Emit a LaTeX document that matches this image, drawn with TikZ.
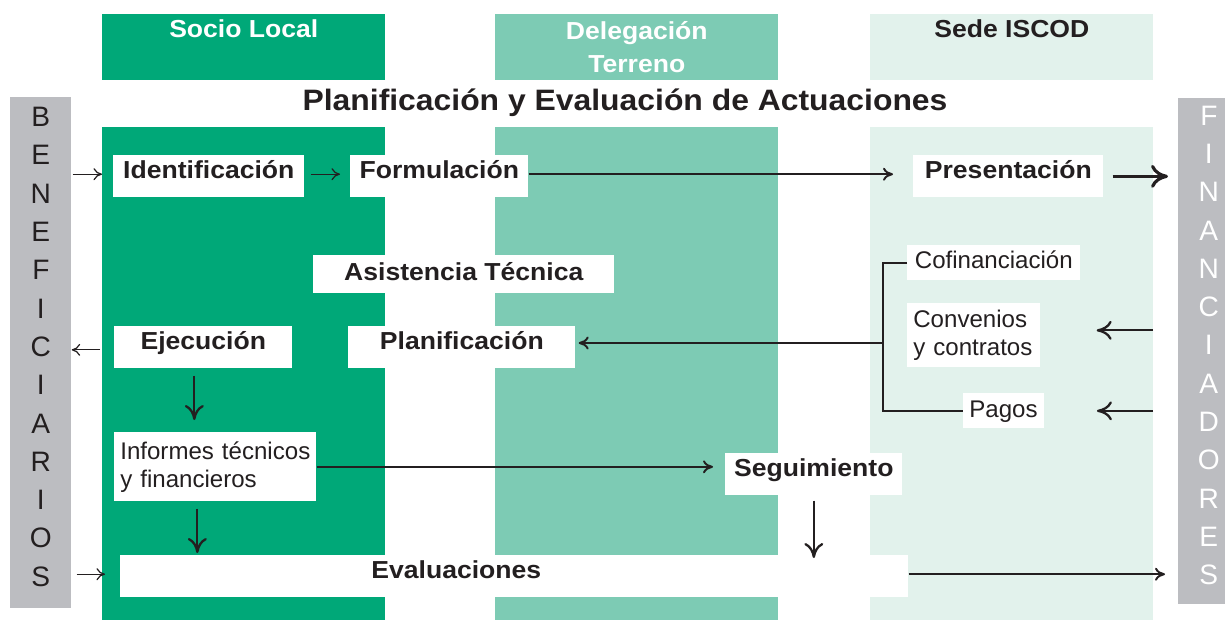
\documentclass[tikz,border=0pt]{standalone}
\usepackage{fontspec}
\setmainfont{Liberation Sans}[BoldFeatures={FakeStretch=1.08}]
\usetikzlibrary{arrows.meta}
\definecolor{socio}{RGB}{0,168,120}
\definecolor{deleg}{RGB}{125,203,180}
\definecolor{sede}{RGB}{226,242,236}
\definecolor{barra}{RGB}{188,189,193}
\definecolor{tinta}{RGB}{35,31,32}

\begin{document}
\begin{tikzpicture}[x=0.02cm, y=-0.02cm,
            col/.style={anchor=north west, minimum width=5.66cm, minimum height=9.86cm, inner sep=0pt},
            head/.style={anchor=north west, minimum width=5.66cm, minimum height=1.32cm, inner sep=0pt, align=center, font=\bfseries\fontsize{14}{18.8}\selectfont},
            bar/.style={anchor=north west, fill=barra, minimum width=1.22cm, inner sep=0pt, align=center, text depth=0.24cm, font=\fontsize{16}{21.8}\selectfont},
            main box/.style={anchor=north west, fill=white, inner sep=0pt, text height=0.47cm, text depth=0.37cm, text=tinta, font=\bfseries\fontsize{14}{16}\selectfont},
            small box/.style={anchor=north west, fill=white, inner xsep=0.12cm, inner ysep=0pt, text=tinta, font=\fontsize{13.7}{15.8}\selectfont},
            thin arrow/.style={draw=tinta, line width=0.7pt, -{To[length=0.17cm, width=0.24cm]}},
            mid arrow/.style={draw=tinta, line width=1.1pt, -{To[length=0.2cm, width=0.26cm]}},
            down arrow/.style={draw=tinta, line width=1.3pt, -{To[length=0.3cm, width=0.38cm]}},
            big arrow/.style={draw=tinta, line width=1.8pt, -{To[length=0.34cm, width=0.46cm]}},
            ]
            \useasboundingbox (0,0) rectangle (1225,620);

            \node[col, fill=socio] (csocio) at (102,127) {};
            \node[col, fill=deleg] (cdeleg) at (495,127) {};
            \node[col, fill=sede] (csede) at (870,127) {};
            \node[head, fill=socio, text=white, text height=0.46cm, text depth=0.86cm] (hsocio) at (102,14) {Socio Local};
            \node[head, fill=deleg, text=white] (hdeleg) at (495,14) {Delegación\\Terreno};
            \node[head, fill=sede, text=tinta, text height=0.46cm, text depth=0.86cm] (hsede) at (870,14) {Sede ISCOD};
            \node[anchor=base, text=tinta, font=\bfseries\fontsize{16.8}{20}\selectfont] (titulo) at (625,110) {Planificación y Evaluación de Actuaciones};

            \node[bar, minimum height=10.22cm, text=tinta] (benef) at (10,97) {B\\E\\N\\E\\F\\I\\C\\I\\A\\R\\I\\O\\S};
            \node[bar, minimum height=10.12cm, text=white] (finan) at (1178,98) {F\\I\\N\\A\\N\\C\\I\\A\\D\\O\\R\\E\\S};

            \node[main box, minimum width=3.82cm] (iden) at (113,155) {Identificación};
            \node[main box, minimum width=3.56cm] (form) at (350,155) {Formulación};
            \node[main box, minimum width=3.80cm] (pres) at (913,155) {Presentación};
            \node[main box, minimum width=6.02cm, text height=0.5cm, text depth=0.26cm] (asist) at (313,255) {Asistencia Técnica};
            \node[main box, minimum width=3.56cm] (ejec) at (114,326) {Ejecución};
            \node[main box, minimum width=4.54cm] (plan) at (348,326) {Planificación};
            \node[main box, minimum width=3.54cm] (segu) at (725,453) {Seguimiento};
            \node[main box, minimum width=15.76cm] (eval) at (120,555) {Evaluaciones\hspace*{2.32cm}};
            \node[small box, minimum width=3.46cm, text height=0.46cm, text depth=0.24cm] (cofin) at (907,245) {Cofinanciación};
            \node[small box, minimum width=1.6cm, text height=0.48cm, text depth=0.22cm] (pagos) at (963,393) {Pagos};
            \node[small box, text width=2.42cm, minimum height=1.28cm, align=left] (conv) at (907,303) {Convenios\\y contratos};
            \node[small box, text width=3.8cm, minimum height=1.38cm, align=left] (inform) at (114,432) {Informes técnicos\\y financieros};

            \coordinate (brk) at (883,343);
            \coordinate (e1) at ([xshift=-0.18cm]ejec.south);
            \coordinate (i1) at ([xshift=-0.36cm]inform.south);

            \draw[thin arrow, shorten <=0.02cm] (benef.east |- iden.mid west) -- (csocio.west |- iden.mid west);
            \draw[thin arrow, shorten <=0.12cm, shorten >=0.2cm] (iden.mid east) -- (form.mid west);
            \draw[mid arrow, shorten >=0.4cm] (form.mid east) -- (pres.mid west);
            \draw[big arrow, shorten <=0.18cm, shorten >=0.2cm] (pres.east) -- (finan.west |- pres.east);
            \draw[down arrow, shorten <=0.5cm, shorten >=1.12cm] ([yshift=0.1cm]finan.west |- conv.east) -- ([yshift=0.1cm]conv.east);
            \draw[down arrow, shorten <=0.5cm, shorten >=1.06cm] (finan.west |- pagos.east) -- (pagos.east);
            \draw[draw=tinta, line width=1.1pt] (cofin.west) -| (brk |- pagos.west) -- (pagos.west);
            \draw[mid arrow, shorten >=0.06cm] (brk) -- (plan.east |- brk);
            \draw[thin arrow, shorten <=0.28cm] (ejec.base west) -- (benef.east |- ejec.base west);
            \draw[down arrow, shorten <=0.14cm, shorten >=0.24cm] (e1) -- (e1 |- inform.north);
            \draw[mid arrow, shorten >=0.24cm] (inform.east) -- (segu.west |- inform.east);
            \draw[down arrow, shorten <=0.14cm, shorten >=0.04cm] (i1) -- (i1 |- eval.north);
            \draw[down arrow, shorten <=0.1cm, shorten >=-0.06cm] (segu.south) -- (segu.south |- eval.north);
            \draw[thin arrow, shorten <=0.1cm, shorten >=0.3cm] (benef.east |- eval.mid west) -- (eval.mid west);
            \draw[mid arrow, shorten >=0.26cm] (eval.mid east) -- (finan.west |- eval.mid east);
        \end{tikzpicture}
\end{document}
